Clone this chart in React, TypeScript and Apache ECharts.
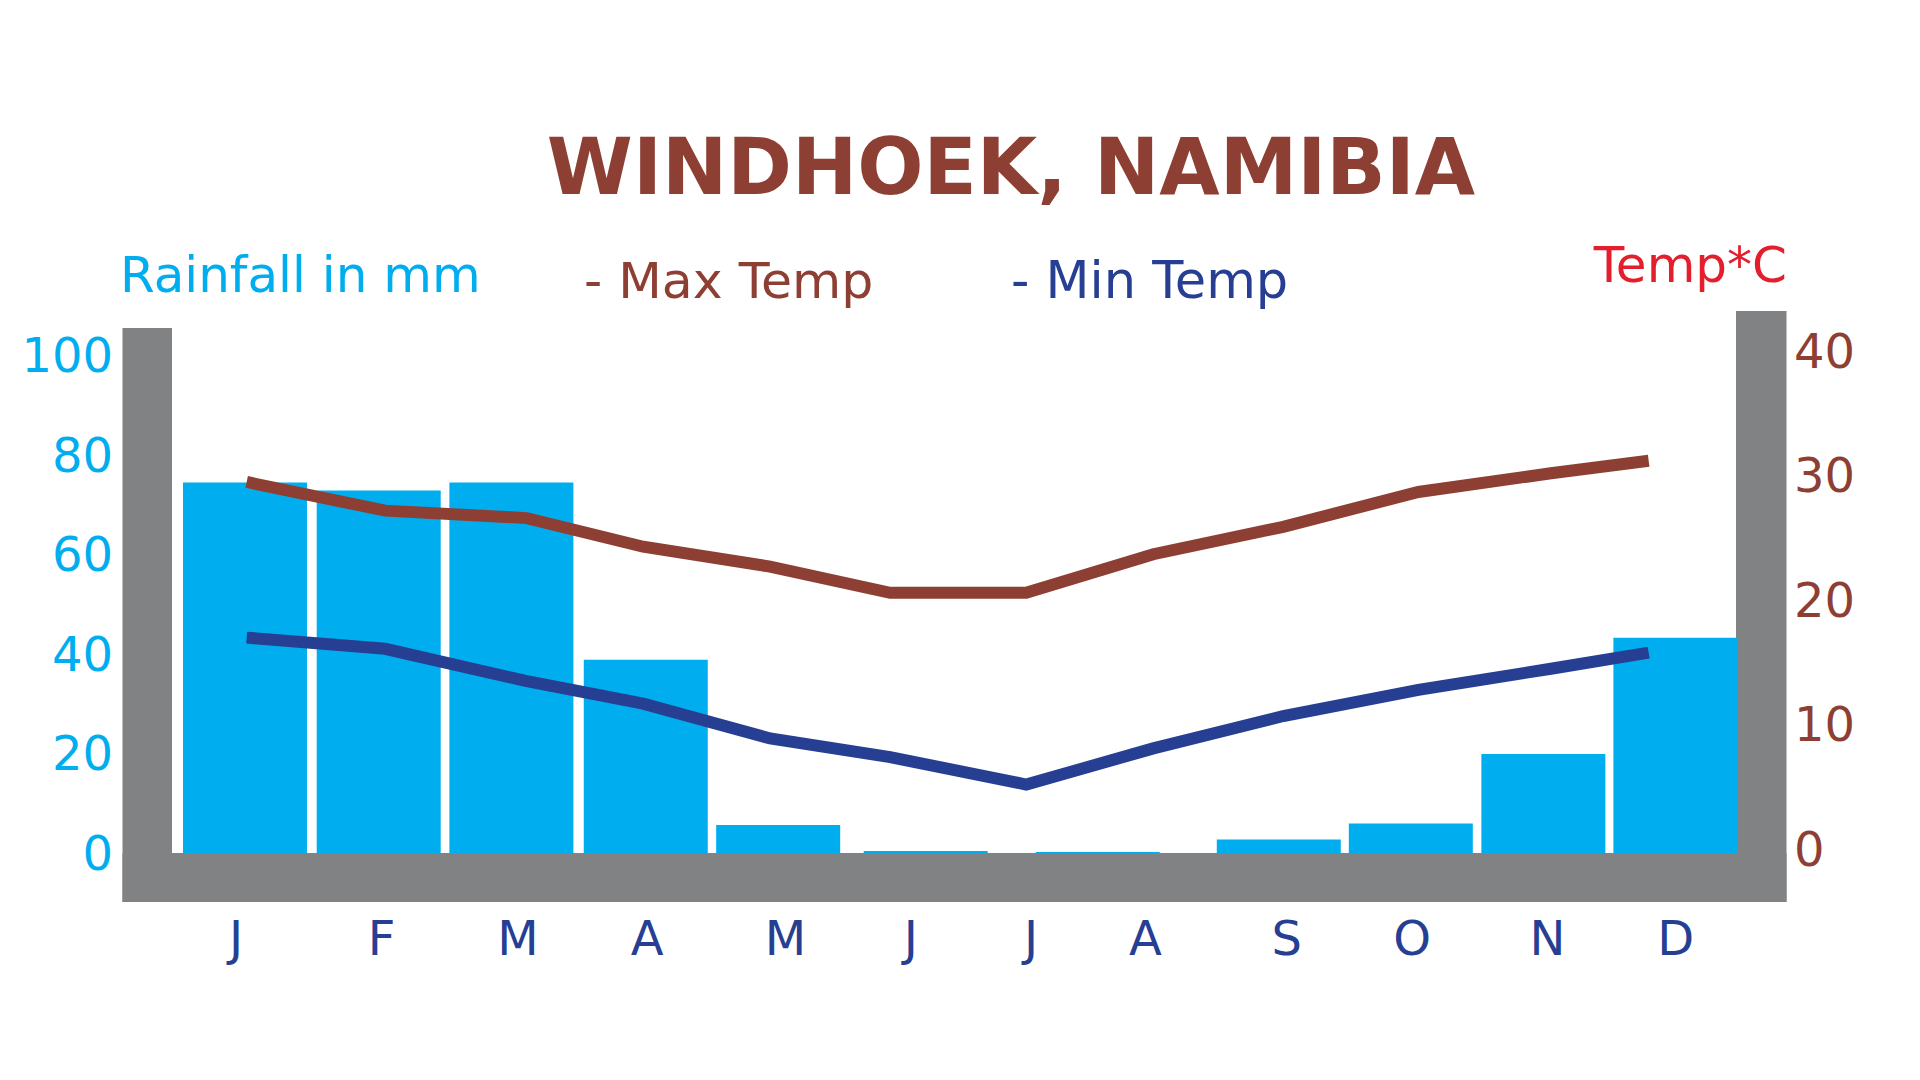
import React, { useEffect, useRef } from "react";
import * as echarts from "echarts";

const months = ["J", "F", "M", "A", "M", "J", "J", "A", "S", "O", "N", "D"];
const rainfall = [74.4, 72.8, 74.4, 38.8, 5.6, 0.4, 0, 0.2, 2.7, 5.9, 19.9, 43.2];
const maxTemp = [29.8, 27.5, 26.9, 24.6, 23.0, 20.9, 20.9, 24.0, 26.2, 29.0, 30.5, 31.5];
const minTemp = [17.3, 16.4, 13.8, 12.0, 9.2, 7.7, 5.5, 8.4, 11.0, 13.1, 14.8, 16.1];
// where each month's bar centre and temperature vertex sit along the month axis (0..12), as drawn
const rainMonthPos = [0.56, 1.586, 2.604, 3.635, 4.651, 5.783, 6.55, 7.103, 8.492, 9.505, 10.522, 11.535];
const tempMonthPos = [0.573, 1.635, 2.722, 3.615, 4.589, 5.51, 6.554, 7.529, 8.526, 9.563, 10.58, 11.33];
const rainTicks = { min: 0, max: 100, interval: 20 };
const tempTicks = { min: 0, max: 40, interval: 10 };

// layout: horizontal nudge (px) of each month label from its slot centre, as drawn
const labelNudge = [-1, 14, 20, 19, 27, 22, 12, -4, 7, 2, 7, 5];

const FONT = "DejaVu Sans";
const BLUE = "#00AEEF";
const BROWN = "#8E3F33";
const NAVY = "#263F93";
const GRAY = "#808283";
const RED = "#E31E2D";

export default function App() {
  const ref = useRef<HTMLDivElement>(null);
  useEffect(() => {
    if (!ref.current) return;
    const chart = echarts.init(ref.current, undefined, { renderer: "svg" });
    const pairs = (xs: number[], ys: number[]) => ys.map((v, i) => [xs[i], v]);
    const rich: Record<string, any> = {};
    labelNudge.forEach((dx, i) => {
      rich["m" + i] = {
        color: NAVY,
        fontFamily: FONT,
        fontSize: 48,
        padding: dx >= 0 ? [0, 0, 0, dx * 2] : [0, -dx * 2, 0, 0],
      };
    });
    chart.setOption({
      animation: false,
      backgroundColor: "#ffffff",
      grid: { left: 172, right: 184, top: 355, bottom: 227, containLabel: false },
      xAxis: [
        {
          type: "category",
          data: months,
          axisLine: { show: false },
          axisTick: { show: false },
          splitLine: { show: false },
          axisLabel: {
            interval: 0,
            hideOverlap: false,
            color: NAVY,
            fontFamily: FONT,
            fontSize: 48,
            margin: 61,
            formatter: (v: string, i: number) => `{m${i}|${v}}`,
            rich,
          },
        },
        { type: "value", min: 0, max: 12, show: false },
      ],
      yAxis: [
        {
          type: "value",
          ...rainTicks,
          axisLine: { show: false },
          axisTick: { show: false },
          splitLine: { show: false },
          axisLabel: { color: BLUE, fontFamily: FONT, fontSize: 48, margin: 59 },
        },
        {
          type: "value",
          position: "right",
          ...tempTicks,
          axisLine: { show: false },
          axisTick: { show: false },
          splitLine: { show: false },
          axisLabel: {
            color: BROWN,
            fontFamily: FONT,
            fontSize: 48,
            margin: 58,
            formatter: (v: number) => `{t|${v}}`,
            rich: { t: { color: BROWN, fontFamily: FONT, fontSize: 48, padding: [0, 0, 9, 0] } },
          },
        },
      ],
      series: [
        {
          type: "bar",
          name: "Rainfall",
          data: pairs(rainMonthPos, rainfall),
          xAxisIndex: 1,
          yAxisIndex: 0,
          barWidth: 124,
          itemStyle: { color: BLUE },
          z: 2,
        },
        {
          type: "line",
          name: "Max Temp",
          data: pairs(tempMonthPos, maxTemp),
          xAxisIndex: 1,
          yAxisIndex: 1,
          symbol: "none",
          lineStyle: { color: BROWN, width: 12, cap: "butt", join: "miter" },
          z: 3,
        },
        {
          type: "line",
          name: "Min Temp",
          data: pairs(tempMonthPos, minTemp),
          xAxisIndex: 1,
          yAxisIndex: 1,
          symbol: "none",
          lineStyle: { color: NAVY, width: 12, cap: "butt", join: "miter" },
          z: 3,
        },
      ],
      graphic: [
        { type: "rect", shape: { x: 122.5, y: 328, width: 49.5, height: 574 }, style: { fill: GRAY }, z: 1 },
        { type: "rect", shape: { x: 1736, y: 311, width: 50.5, height: 591 }, style: { fill: GRAY }, z: 1 },
        { type: "rect", shape: { x: 122.5, y: 853, width: 1664, height: 49 }, style: { fill: GRAY }, z: 1 },
        {
          type: "text",
          x: 1011,
          y: 167,
          style: {
            text: "WINDHOEK, NAMIBIA",
            fill: BROWN,
            font: `bold 78px "${FONT}"`,
            textAlign: "center",
            textVerticalAlign: "middle",
          },
        },
        {
          type: "text",
          x: 120,
          y: 275,
          style: { text: "Rainfall in mm", fill: BLUE, font: `50px "${FONT}"`, textAlign: "left", textVerticalAlign: "middle" },
        },
        {
          type: "text",
          x: 584,
          y: 280,
          style: { text: "- Max Temp", fill: BROWN, font: `50.5px "${FONT}"`, textAlign: "left", textVerticalAlign: "middle" },
        },
        {
          type: "text",
          x: 1011,
          y: 280,
          style: { text: "- Min Temp", fill: NAVY, font: `51px "${FONT}"`, textAlign: "left", textVerticalAlign: "middle" },
        },
        {
          type: "text",
          x: 1787,
          y: 265,
          style: { text: "Temp*C", fill: RED, font: `50px "${FONT}"`, textAlign: "right", textVerticalAlign: "middle" },
        },
      ],
    });
    return () => chart.dispose();
  }, []);
  return (
    <div
      ref={ref}
      style={{ position: "fixed", left: 0, top: 0, width: 1920, height: 1080, background: "#ffffff" }}
    />
  );
}
